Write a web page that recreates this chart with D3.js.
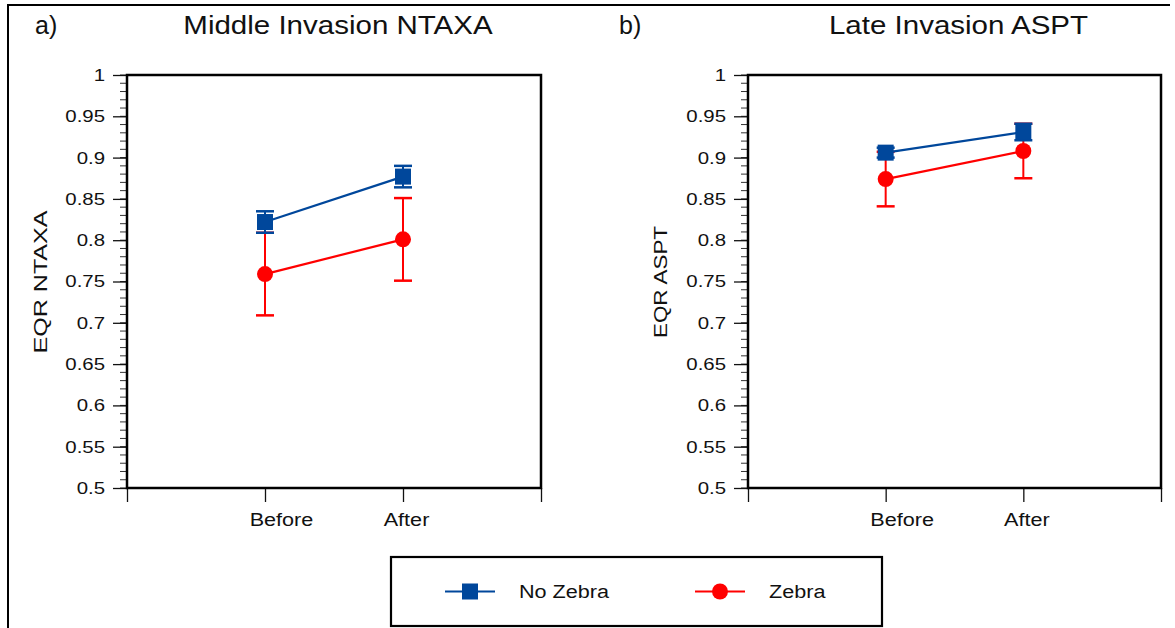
<!DOCTYPE html>
<html>
<head>
<meta charset="utf-8">
<script src="https://cdn.jsdelivr.net/npm/d3@7"></script>
<style>
  body { margin: 0; background: #fff; }
  svg text { font-family: "Liberation Sans", Arial, sans-serif; fill: #111; }
</style>
</head>
<body>
<div id="chart"></div>
<script>
// categories on the x axis (slots 0 and 3 are empty padding)
const periods = ["Before", "After"];
const seriesNames = ["No Zebra", "Zebra"];
const yTicks = [0.5, 0.55, 0.6, 0.65, 0.7, 0.75, 0.8, 0.85, 0.9, 0.95, 1];

// panel a) Middle Invasion NTAXA
const ntaxaNoZebra = [0.822, 0.877];
const ntaxaNoZebraErr = [0.013, 0.013];
const ntaxaZebra = [0.759, 0.801];
const ntaxaZebraErr = [0.05, 0.05];

// panel b) Late Invasion ASPT
const asptNoZebra = [0.906, 0.931];
const asptNoZebraErr = [0.006, 0.01];
const asptZebra = [0.874, 0.908];
const asptZebraErr = [0.033, 0.033];

const colors = { "No Zebra": "#00479b", "Zebra": "#ff0000" };

// the original text is drawn a bit wider than plain Arial
const textStretch = 1.2;
// category labels sit a little right of their ticks in the original
const periodLabelShift = { Before: 16, After: 3 };

const width = 1175, height = 628;
const svg = d3.select("#chart").append("svg")
  .attr("width", width)
  .attr("height", height);

function stretch(sel, k) {
  sel.each(function () {
    const w = this.getComputedTextLength();
    d3.select(this)
      .attr("textLength", w * k)
      .attr("lengthAdjust", "spacingAndGlyphs");
  });
}

// outer frame (top and left only)
svg.append("path")
  .attr("d", `M8,${height} L8,5 L1170,5`)
  .attr("fill", "none")
  .attr("stroke", "#000")
  .attr("stroke-width", 2);

const panels = [
  {
    letter: "a)", letterX: 35, title: "Middle Invasion NTAXA", ylabel: "EQR NTAXA",
    left: 127, right: 541, labelX: 40, labelLen: 143,
    series: [
      { name: "No Zebra", values: ntaxaNoZebra, errs: ntaxaNoZebraErr },
      { name: "Zebra", values: ntaxaZebra, errs: ntaxaZebraErr },
    ],
  },
  {
    letter: "b)", letterX: 619, title: "Late Invasion ASPT", ylabel: "EQR ASPT",
    left: 748, right: 1161, labelX: 660, labelLen: 112,
    series: [
      { name: "No Zebra", values: asptNoZebra, errs: asptNoZebraErr },
      { name: "Zebra", values: asptZebra, errs: asptZebraErr },
    ],
  },
];

const plotTop = 75, plotBottom = 488;

panels.forEach((p) => drawPanel(p));

function drawPanel(p) {
  const g = svg.append("g");

  const x = d3.scaleLinear().domain([0, 3]).range([p.left, p.right]);
  const y = d3.scaleLinear().domain([0.5, 1]).range([plotBottom, plotTop]);

  // minor y ticks every 0.01
  const minor = d3.range(50, 101).map((d) => d / 100);
  g.append("g")
    .selectAll("line")
    .data(minor)
    .join("line")
    .attr("x1", p.left - 7)
    .attr("x2", p.left)
    .attr("y1", (d) => y(d))
    .attr("y2", (d) => y(d))
    .attr("stroke", "#333")
    .attr("stroke-width", 1);

  const yAxis = g.append("g")
    .attr("transform", `translate(${p.left},0)`)
    .call(d3.axisLeft(y).tickValues(yTicks).tickSize(14).tickPadding(8)
      .tickFormat((d) => d3.format("~g")(d)));
  yAxis.select(".domain").remove();
  yAxis.selectAll(".tick line").attr("stroke", "#111").attr("stroke-width", 1.3);
  yAxis.selectAll(".tick text").style("font-size", "17px").attr("fill", "#111")
    .call(stretch, textStretch);

  const xAxis = g.append("g")
    .attr("transform", `translate(0,${plotBottom})`)
    .call(d3.axisBottom(x).tickValues([0, 1, 2, 3]).tickSize(14).tickPadding(11)
      .tickFormat((d) => (d === 1 || d === 2 ? periods[d - 1] : "")));
  xAxis.select(".domain").remove();
  xAxis.selectAll(".tick line").attr("stroke", "#111").attr("stroke-width", 1.3);
  xAxis.selectAll(".tick text").style("font-size", "18px").attr("fill", "#111")
    .filter(function () { return this.textContent !== ""; })
    .attr("dx", function () { return periodLabelShift[this.textContent]; })
    .call(stretch, textStretch);

  // plot frame
  g.append("rect")
    .attr("x", p.left)
    .attr("y", plotTop)
    .attr("width", p.right - p.left)
    .attr("height", plotBottom - plotTop)
    .attr("fill", "none")
    .attr("stroke", "#000")
    .attr("stroke-width", 2.5);

  // titles
  svg.append("text")
    .attr("x", p.letterX)
    .attr("y", 34)
    .style("font-size", "25px")
    .text(p.letter);
  svg.append("text")
    .attr("x", (p.left + p.right) / 2 + 4)
    .attr("y", 34)
    .attr("text-anchor", "middle")
    .style("font-size", "25px")
    .text(p.title)
    .call(stretch, 1.18);
  svg.append("text")
    .attr("transform", `translate(${p.labelX + 7},282) rotate(-90)`)
    .attr("text-anchor", "middle")
    .style("font-size", "19px")
    .attr("textLength", p.labelLen)
    .attr("lengthAdjust", "spacingAndGlyphs")
    .text(p.ylabel);

  // series: Zebra first so No Zebra sits on top
  const order = [p.series[1], p.series[0]];
  order.forEach((s) => {
    const c = colors[s.name];
    const pts = s.values.map((v, i) => ({ x: i + 1, v, e: s.errs[i] }));
    const sg = g.append("g");

    sg.selectAll("line.err")
      .data(pts)
      .join("line")
      .attr("class", "err")
      .attr("x1", (d) => x(d.x))
      .attr("x2", (d) => x(d.x))
      .attr("y1", (d) => y(d.v - d.e))
      .attr("y2", (d) => y(d.v + d.e))
      .attr("stroke", c)
      .attr("stroke-width", 2);

    ["lo", "hi"].forEach((k) => {
      sg.selectAll(`line.cap-${k}`)
        .data(pts)
        .join("line")
        .attr("class", `cap-${k}`)
        .attr("x1", (d) => x(d.x) - 9)
        .attr("x2", (d) => x(d.x) + 9)
        .attr("y1", (d) => y(k === "lo" ? d.v - d.e : d.v + d.e))
        .attr("y2", (d) => y(k === "lo" ? d.v - d.e : d.v + d.e))
        .attr("stroke", c)
        .attr("stroke-width", 2.5);
    });

    sg.append("path")
      .datum(pts)
      .attr("d", d3.line().x((d) => x(d.x)).y((d) => y(d.v)))
      .attr("fill", "none")
      .attr("stroke", c)
      .attr("stroke-width", 2.2);

    drawMarkers(sg, pts.map((d) => [x(d.x), y(d.v)]), s.name);
  });
}

function drawMarkers(sel, xy, name) {
  const c = colors[name];
  if (name === "No Zebra") {
    sel.selectAll("rect.mk")
      .data(xy)
      .join("rect")
      .attr("class", "mk")
      .attr("x", (d) => d[0] - 8)
      .attr("y", (d) => d[1] - 8)
      .attr("width", 16)
      .attr("height", 16)
      .attr("fill", c);
  } else {
    sel.selectAll("circle.mk")
      .data(xy)
      .join("circle")
      .attr("class", "mk")
      .attr("cx", (d) => d[0])
      .attr("cy", (d) => d[1])
      .attr("r", 8)
      .attr("fill", c);
  }
}

// legend
const legend = svg.append("g");
legend.append("rect")
  .attr("x", 391)
  .attr("y", 557)
  .attr("width", 491)
  .attr("height", 69)
  .attr("fill", "#fff")
  .attr("stroke", "#000")
  .attr("stroke-width", 2.2);

const legendX = d3.scalePoint().domain(seriesNames).range([445, 695]);
seriesNames.forEach((name) => {
  const lx = legendX(name);
  const ly = 591.5;
  legend.append("line")
    .attr("x1", lx)
    .attr("x2", lx + 50)
    .attr("y1", ly)
    .attr("y2", ly)
    .attr("stroke", colors[name])
    .attr("stroke-width", 2);
  drawMarkers(legend.append("g"), [[lx + 25, ly]], name);
  legend.append("text")
    .attr("x", lx + 74)
    .attr("y", ly + 6.5)
    .style("font-size", "18px")
    .text(name)
    .call(stretch, textStretch);
});
</script>
</body>
</html>
